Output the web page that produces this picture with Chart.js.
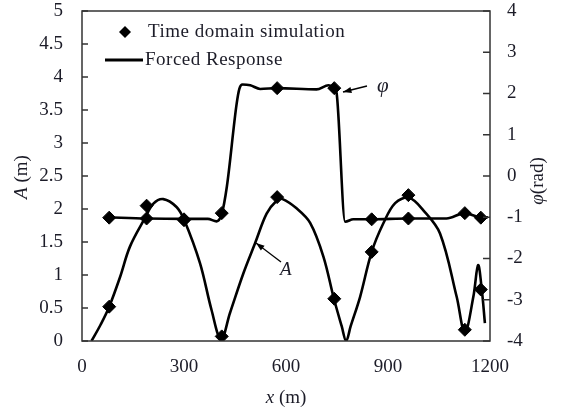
<!DOCTYPE html>
<html>
<head>
<meta charset="utf-8">
<script src="https://cdn.jsdelivr.net/npm/chart.js@4.4.0/dist/chart.umd.min.js"></script>
<style>
  body { margin: 0; background: #fff; }
  #wrap { width: 561px; height: 409px; }
</style>
</head>
<body>
<div id="wrap"><canvas id="chart" width="561" height="409"></canvas></div>
<script>
// forced response, amplitude A (m) along x (m)
const ampX = [28, 55, 80, 112, 141, 185, 210, 239, 278, 301, 347, 381, 409, 435, 475, 509, 543, 573, 590, 631, 671, 710, 741, 764, 777, 790, 818, 852, 886, 921, 962, 1004, 1053, 1102, 1126, 1151, 1165, 1176, 1185];
const ampY = [0, 0.25, 0.52, 0.97, 1.43, 1.86, 2.08, 2.15, 2.03, 1.83, 1.18, 0.47, 0.02, 0.42, 1.03, 1.48, 1.93, 2.13, 2.15, 2.01, 1.79, 1.28, 0.64, 0.22, 0, 0.22, 0.67, 1.35, 1.78, 2.09, 2.17, 1.98, 1.63, 0.67, 0.13, 0.67, 1.15, 0.77, 0.27];

// forced response, phase (rad)
const phaseX = [76, 190, 300, 370, 396, 411, 426, 455, 463, 472, 495, 524, 574, 690, 725, 742, 749, 774, 798, 852, 960, 1072, 1126, 1173, 1194];
const phaseY = [-1.0, -1.03, -1.04, -1.04, -1.1, -0.92, -0.26, 1.76, 2.12, 2.22, 2.2, 2.11, 2.13, 2.1, 2.2, 2.13, 2.0, -1.11, -1.05, -1.05, -1.03, -1.03, -0.9, -1.0, -1.0];

// time domain simulation points
const simX = [80, 190, 300, 411, 574, 742, 852, 960, 1126, 1173];
const simAmp = [0.52, 2.05, 1.83, 0.07, 2.18, 0.64, 1.35, 2.21, 0.17, 0.78];
const simPhase = [-1.01, -1.03, -1.05, -0.9, 2.13, 2.13, -1.05, -1.03, -0.9, -1.01];

const xTicks = [0, 300, 600, 900, 1200];
const legendLabels = ["Time domain simulation", "Forced Response"];

const serif = "'Liberation Serif', 'Times New Roman', serif";
const ink = "#1c1c28";

function pairs(xs, ys) {
  return ys.map((y, i) => ({ x: xs[i], y: y }));
}

//draws box, inner ticks, legend, axis titles and labels
const decor = {
  id: "decor",
  afterDraw(chart) {
    const ctx = chart.ctx;
    const a = chart.chartArea;
    const yl = chart.scales.y, yr = chart.scales.y1;
    ctx.save();

    //plot box
    ctx.strokeStyle = "#333";
    ctx.lineWidth = 1.5;
    ctx.strokeRect(a.left, a.top, a.right - a.left, a.bottom - a.top);

    //inward ticks
    ctx.beginPath();
    yl.ticks.forEach(t => {
      const p = yl.getPixelForValue(t.value);
      ctx.moveTo(a.left, p); ctx.lineTo(a.left + 6, p);
    });
    yr.ticks.forEach(t => {
      const p = yr.getPixelForValue(t.value);
      ctx.moveTo(a.right, p); ctx.lineTo(a.right - 7, p);
    });
    ctx.stroke();

    //legend
    ctx.fillStyle = "#000";
    ctx.beginPath();
    ctx.moveTo(125 - 6, 32); ctx.lineTo(125, 26); ctx.lineTo(125 + 6, 32); ctx.lineTo(125, 38);
    ctx.closePath(); ctx.fill();
    ctx.strokeStyle = "#000";
    ctx.lineWidth = 3;
    ctx.beginPath(); ctx.moveTo(105, 60); ctx.lineTo(143, 60); ctx.stroke();
    ctx.font = "19px " + serif;
    ctx.letterSpacing = "0.5px";
    ctx.fillStyle = ink;
    ctx.textBaseline = "middle";
    ctx.textAlign = "left";
    ctx.fillText(legendLabels[0], 148, 32);
    ctx.fillText(legendLabels[1], 145, 60);
    ctx.letterSpacing = "0px";

    //curve labels with arrows
    ctx.font = "italic 21px " + serif;
    ctx.fillText("\u03c6", 377, 86);
    ctx.font = "italic 19px " + serif;
    ctx.fillText("A", 280, 270);
    arrow(ctx, 367, 86, 343, 92);
    arrow(ctx, 281, 262, 256, 243);

    //axis titles
    mixedTitle(ctx, 22, 177, -Math.PI / 2, "A", " (m)");
    mixedTitle(ctx, 538, 181, -Math.PI / 2, "\u03c6", "(rad)");
    mixedTitle(ctx, (a.left + a.right) / 2, 398, 0, "x", " (m)");

    ctx.restore();
  }
};

function arrow(ctx, x1, y1, x2, y2) {
  const ang = Math.atan2(y2 - y1, x2 - x1);
  ctx.strokeStyle = "#000";
  ctx.fillStyle = "#000";
  ctx.lineWidth = 1.3;
  ctx.beginPath(); ctx.moveTo(x1, y1); ctx.lineTo(x2, y2); ctx.stroke();
  ctx.beginPath();
  ctx.moveTo(x2, y2);
  ctx.lineTo(x2 - 9 * Math.cos(ang - 0.35), y2 - 9 * Math.sin(ang - 0.35));
  ctx.lineTo(x2 - 9 * Math.cos(ang + 0.35), y2 - 9 * Math.sin(ang + 0.35));
  ctx.closePath(); ctx.fill();
}

function mixedTitle(ctx, cx, cy, rot, italicPart, plainPart) {
  ctx.save();
  ctx.translate(cx, cy);
  ctx.rotate(rot);
  ctx.textBaseline = "middle";
  ctx.textAlign = "left";
  ctx.fillStyle = ink;
  ctx.font = "italic 19px " + serif;
  const w1 = ctx.measureText(italicPart).width;
  ctx.font = "19px " + serif;
  const w2 = ctx.measureText(plainPart).width;
  let x = -(w1 + w2) / 2;
  ctx.font = "italic 19px " + serif;
  ctx.fillText(italicPart, x, 0);
  ctx.font = "19px " + serif;
  ctx.fillText(plainPart, x + w1, 0);
  ctx.restore();
}

const tickFont = { family: serif, size: 19 };
const plain = v => String(v);

new Chart(document.getElementById("chart").getContext("2d"), {
  type: "line",
  data: {
    datasets: [
      {
        label: legendLabels[1],
        data: pairs(ampX, ampY),
        yAxisID: "y",
        borderColor: "#000",
        borderWidth: 2.6,
        pointRadius: 0,
        tension: 0.35,
      },
      {
        label: legendLabels[1],
        data: pairs(phaseX, phaseY),
        yAxisID: "y1",
        borderColor: "#000",
        borderWidth: 2.6,
        pointRadius: 0,
        cubicInterpolationMode: "monotone",
      },
      {
        label: legendLabels[0],
        data: pairs(simX, simAmp),
        yAxisID: "y",
        showLine: false,
        pointStyle: "rectRot",
        pointRadius: 6.5,
        pointBackgroundColor: "#000",
        pointBorderColor: "#000",
      },
      {
        label: legendLabels[0],
        data: pairs(simX, simPhase),
        yAxisID: "y1",
        showLine: false,
        pointStyle: "rectRot",
        pointRadius: 6.5,
        pointBackgroundColor: "#000",
        pointBorderColor: "#000",
      },
    ],
  },
  options: {
    responsive: false,
    animation: false,
    layout: { padding: { top: 11, left: 0, right: 0, bottom: 0 } },
    plugins: { legend: { display: false }, tooltip: { enabled: false } },
    scales: {
      x: {
        type: "linear",
        min: 0,
        max: 1200,
        afterBuildTicks: s => { s.ticks = xTicks.map(v => ({ value: v })); },
        ticks: { font: tickFont, color: ink, padding: 15, maxRotation: 0, callback: plain },
        grid: { display: false, drawTicks: false },
        border: { display: false },
        afterFit: s => { s.height = 68; s.paddingLeft = 0; s.paddingRight = 0; },
      },
      y: {
        position: "left",
        min: 0,
        max: 5,
        ticks: { stepSize: 0.5, font: tickFont, color: ink, padding: 19, callback: plain },
        grid: { display: false, drawTicks: false },
        border: { display: false },
        afterFit: s => { s.width = 82; s.paddingTop = 0; s.paddingBottom = 0; },
      },
      y1: {
        position: "right",
        min: -4,
        max: 4,
        ticks: { stepSize: 1, font: tickFont, color: ink, padding: 17, callback: plain },
        grid: { display: false, drawTicks: false },
        border: { display: false },
        afterFit: s => { s.width = 71; s.paddingTop = 0; s.paddingBottom = 0; },
      },
    },
  },
  plugins: [decor],
});
</script>
</body>
</html>
